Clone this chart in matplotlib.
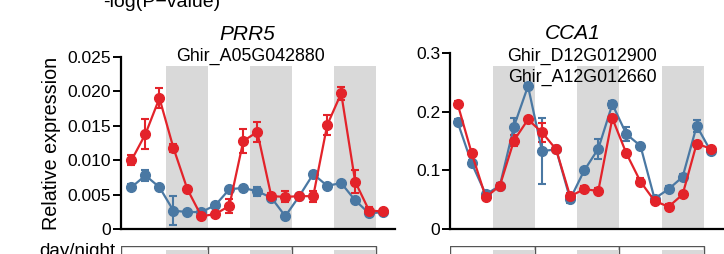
import numpy as np
import matplotlib
matplotlib.use("Agg")
import matplotlib.pyplot as plt
from matplotlib.patches import Rectangle

plt.rcParams["font.family"] = ["Liberation Sans", "DejaVu Sans"]

RED = "#e3232a"
BLUE = "#4a78a3"
GRAY = "#d9d9d9"

# sampling times (h), one point every 4 h
hours = np.arange(0, 73, 4)
night_starts = [10, 34, 58]
night_len = 12
day_boxes = [22, 46, 70]

# PRR5 (Ghir_A05G042880)
prr5_red = [0.0100, 0.0138, 0.0190, 0.0118, 0.0058, 0.0019, 0.0022, 0.0034, 0.0128, 0.0141,
            0.0048, 0.0047, 0.0048, 0.0048, 0.0151, 0.0197, 0.0069, 0.0027, 0.0026]
prr5_red_err = [0.0007, 0.0022, 0.0014, 0.0006, 0.0003, 0.0003, 0.0003, 0.0010, 0.0018, 0.0015,
                0.0004, 0.0008, 0.0003, 0.0008, 0.0015, 0.0009, 0.0017, 0.0005, 0.0003]
prr5_blue = [0.0061, 0.0078, 0.0061, 0.0027, 0.0025, 0.0025, 0.0035, 0.0058, 0.0060, 0.0055,
             0.0046, 0.0019, 0.0048, 0.0080, 0.0063, 0.0067, 0.0042, 0.0023, 0.0025]
prr5_blue_err = [0.0004, 0.0008, 0.0003, 0.0021, 0.0003, 0.0003, 0.0003, 0.0003, 0.0003, 0.0007,
                 0.0003, 0.0003, 0.0003, 0.0003, 0.0003, 0.0003, 0.0003, 0.0003, 0.0003]

# CCA1 (Ghir_D12G012900 / Ghir_A12G012660)
cca1_red = [0.213, 0.129, 0.054, 0.074, 0.151, 0.187, 0.165, 0.136, 0.056, 0.068,
            0.065, 0.189, 0.129, 0.081, 0.048, 0.038, 0.059, 0.146, 0.137]
cca1_red_err = [0.005, 0.005, 0.005, 0.005, 0.010, 0.005, 0.016, 0.005, 0.005, 0.005,
                0.005, 0.005, 0.005, 0.006, 0.005, 0.005, 0.005, 0.005, 0.005]
cca1_blue = [0.182, 0.112, 0.059, 0.074, 0.175, 0.244, 0.133, 0.136, 0.051, 0.100,
             0.137, 0.213, 0.162, 0.142, 0.052, 0.068, 0.089, 0.176, 0.133]
cca1_blue_err = [0.005, 0.005, 0.005, 0.005, 0.015, 0.005, 0.057, 0.005, 0.007, 0.005,
                 0.017, 0.006, 0.012, 0.005, 0.005, 0.005, 0.005, 0.010, 0.005]

fig = plt.figure(figsize=(7.24, 2.54), dpi=100)

panels = [
    dict(rect=[0.1671, 0.0972, 0.3785, 0.6795], xlim=(-3.0, 75.4), ylim=(0, 0.025), band_top=0.0237,
         yticks=[0, 0.005, 0.010, 0.015, 0.020, 0.025],
         yticklabels=["0", "0.005", "0.010", "0.015", "0.020", "0.025"],
         red=prr5_red, red_err=prr5_red_err, blue=prr5_blue, blue_err=prr5_blue_err,
         gene="PRR5", ids=["Ghir_A05G042880"], gene_x=33, gene_y=1.126, ids_x=34, ids_y=[1.0]),
    dict(rect=[0.6215, 0.0984, 0.3767, 0.6917], xlim=(-2.2, 75.4), ylim=(0, 0.3), band_top=0.279,
         yticks=[0, 0.1, 0.2, 0.3], yticklabels=["0", "0.1", "0.2", "0.3"],
         red=cca1_red, red_err=cca1_red_err, blue=cca1_blue, blue_err=cca1_blue_err,
         gene="CCA1", ids=["Ghir_D12G012900", "Ghir_A12G012660"], gene_x=32.7, gene_y=1.114,
         ids_x=35.5, ids_y=[0.981, 0.861]),
]

for p in panels:
    ax = fig.add_axes(p["rect"])
    ax.set_xlim(*p["xlim"])
    ax.set_ylim(*p["ylim"])
    ax.patch.set_alpha(0)
    for s in night_starts:
        ax.add_patch(Rectangle((s, 0), night_len, p["band_top"], facecolor=GRAY, edgecolor="none", zorder=0))

    for vals, err, col in [(p["blue"], p["blue_err"], BLUE), (p["red"], p["red_err"], RED)]:
        ax.errorbar(hours, vals, yerr=err, color=col, marker="o", markersize=7, linewidth=1.6,
                    elinewidth=1.5, capsize=3, capthick=1.5, zorder=3, clip_on=False)

    ax.spines["top"].set_visible(False)
    ax.spines["right"].set_visible(False)
    ax.spines["left"].set_linewidth(1.6)
    ax.spines["bottom"].set_linewidth(1.6)
    ax.set_xticks([])
    ax.set_yticks(p["yticks"])
    ax.set_yticklabels(p["yticklabels"])
    ax.tick_params(axis="y", length=6, width=1.4, labelsize=12.6, pad=1)

    tr = ax.get_xaxis_transform()
    ax.text(p["gene_x"], p["gene_y"], p["gene"], style="italic", fontsize=15, ha="center", va="center", transform=tr)
    for name, yy in zip(p["ids"], p["ids_y"]):
        ax.text(p["ids_x"], yy, name, fontsize=12.8, ha="center", va="center", transform=tr)

    # day/night strip below the panel
    r = p["rect"]
    dn = fig.add_axes([r[0], -0.08, r[2], 0.113])
    dn.set_xlim(*p["xlim"])
    dn.set_ylim(0, 1)
    dn.axis("off")
    left = p["xlim"][0]
    for end in day_boxes:
        dn.add_patch(Rectangle((left, 0), end - left, 1, facecolor="white", edgecolor="#555555", linewidth=1))
        left = end
    for s in night_starts:
        dn.add_patch(Rectangle((s, 0.05), night_len, 0.8, facecolor=GRAY, edgecolor="none"))

fig.axes[0].set_ylabel("Relative expression", fontsize=14.2, labelpad=5)
fig.text(0.159, 0.042, "day/night", fontsize=13.5, ha="right", va="top")
fig.text(0.224, 0.972, "-log(P\u2212value)", fontsize=14, ha="center", va="baseline")

fig.savefig("out.png", dpi=100)
